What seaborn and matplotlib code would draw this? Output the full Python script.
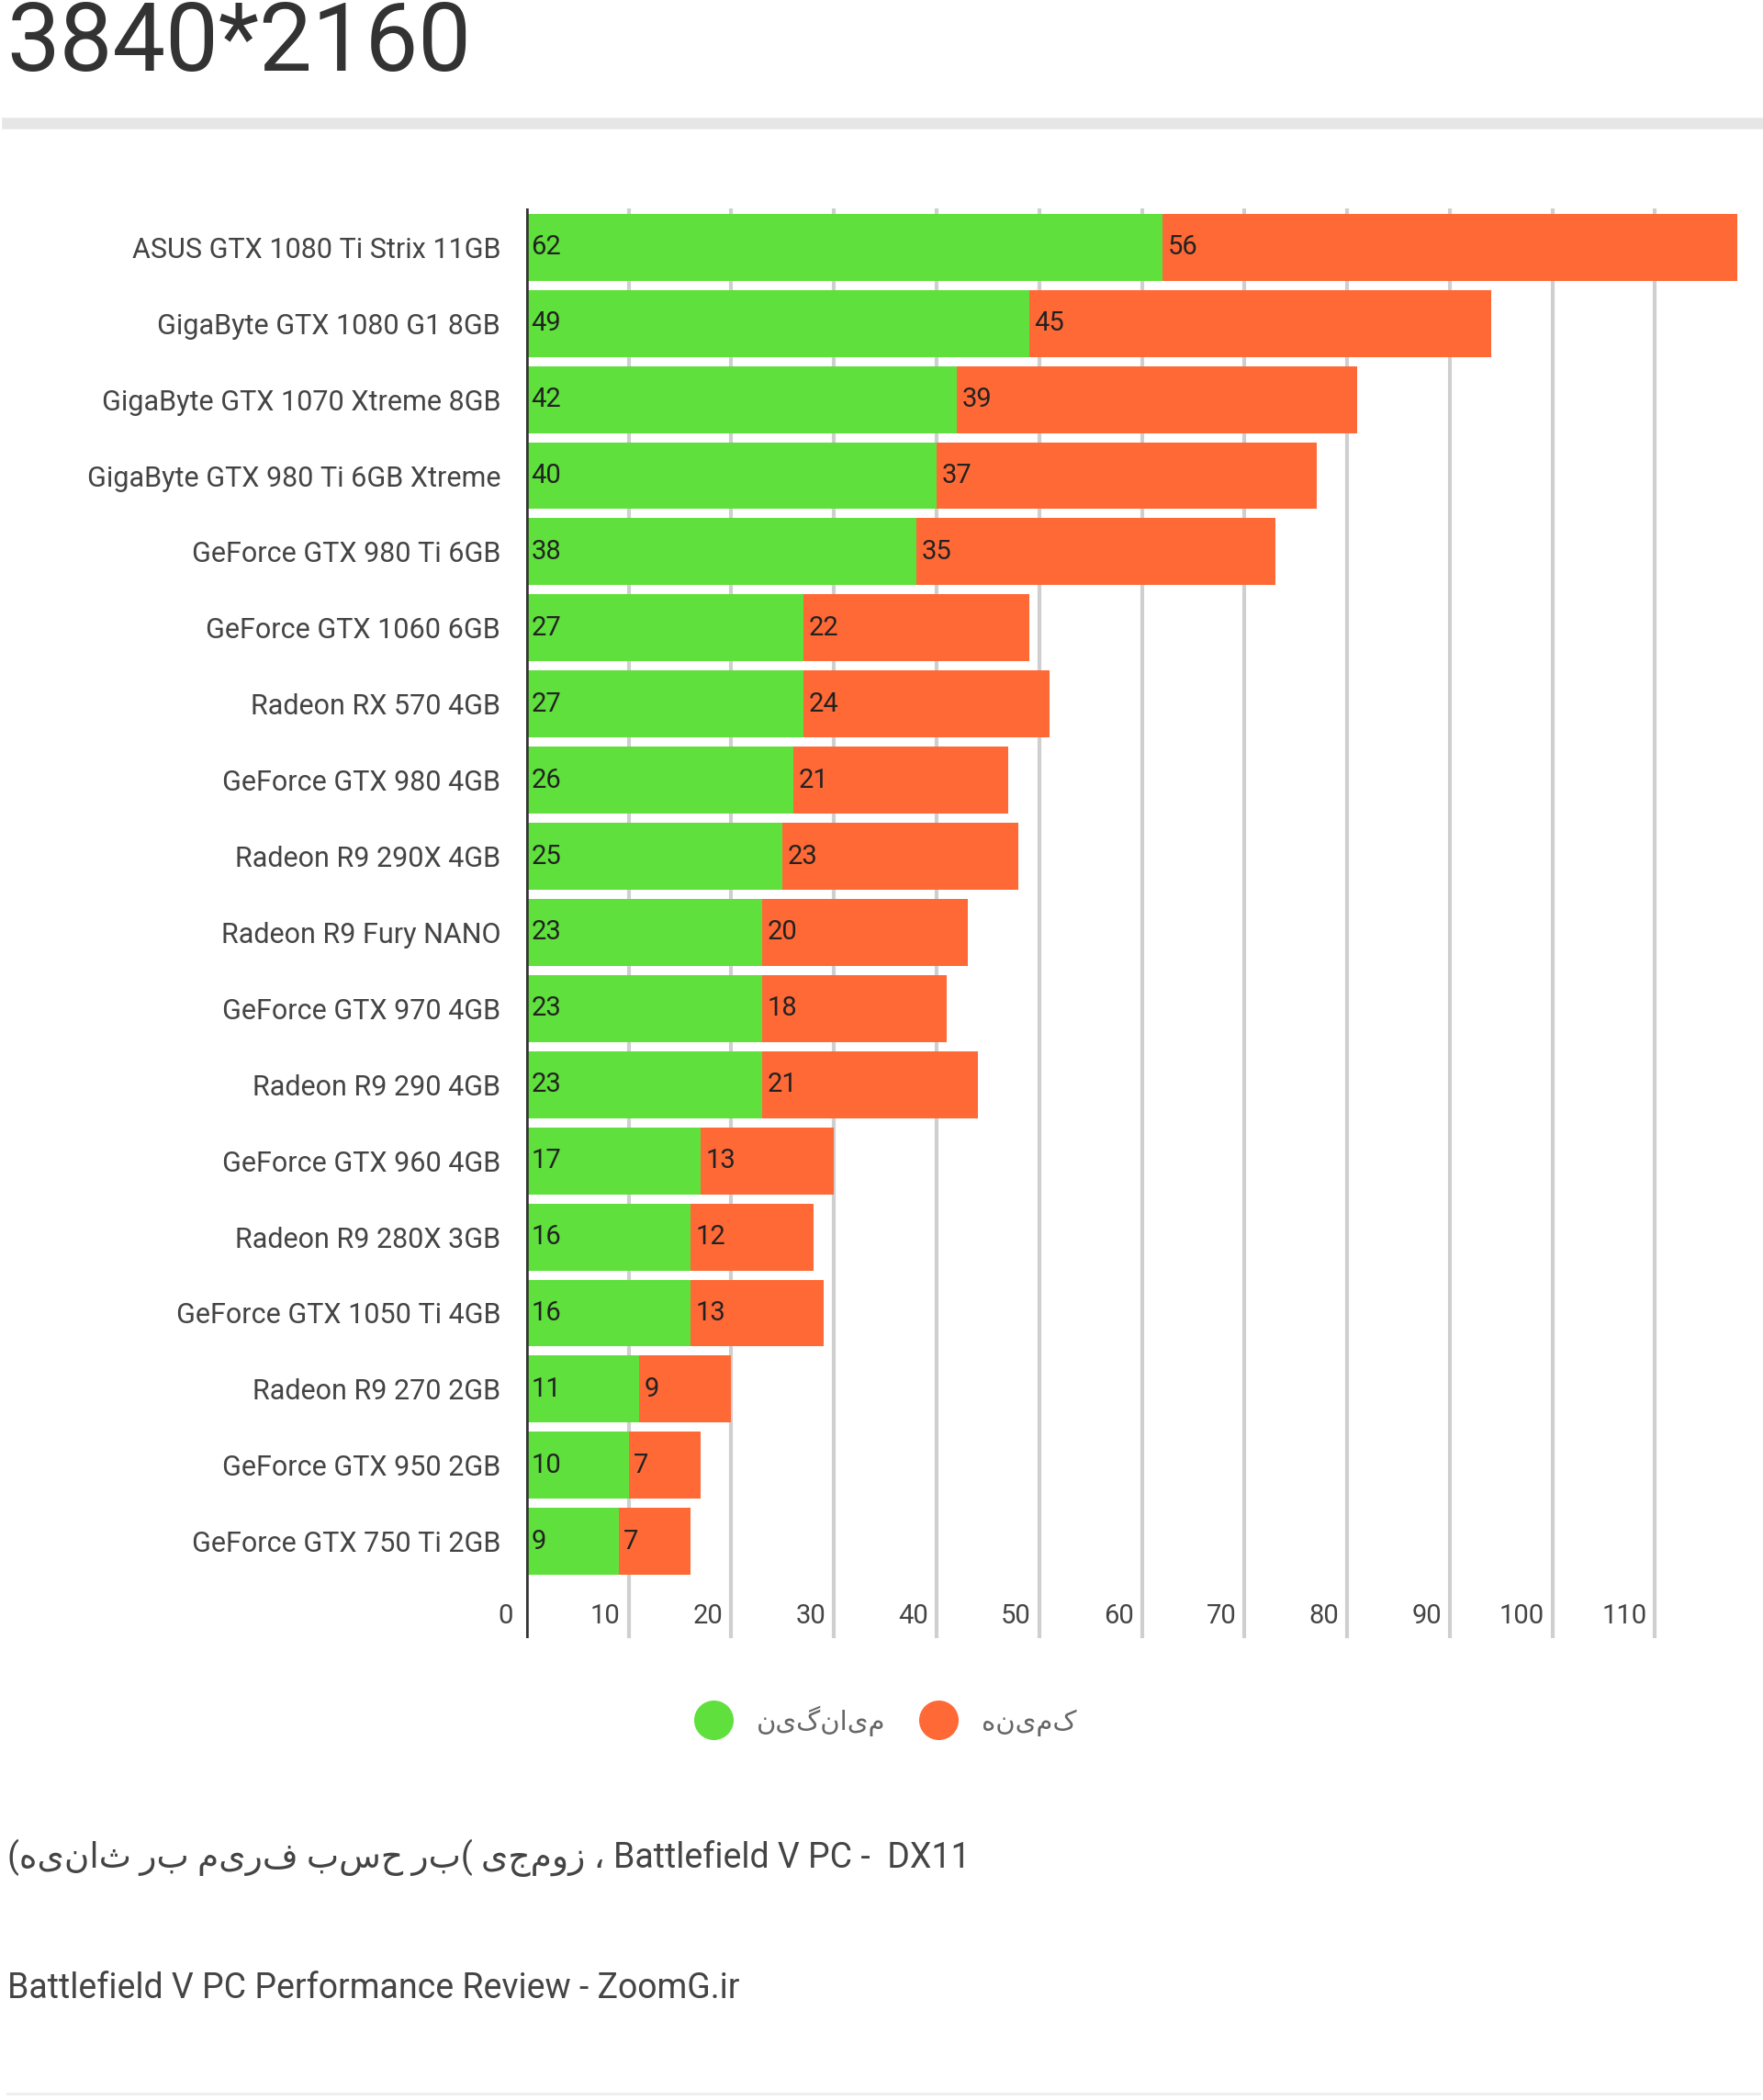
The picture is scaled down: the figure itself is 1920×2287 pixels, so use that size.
import numpy as np
import pandas as pd
import seaborn as sb
from matplotlib import pyplot as plt
from matplotlib.lines import Line2D

gpus = ['ASUS GTX 1080 Ti Strix 11GB', 'GigaByte GTX 1080 G1 8GB', 'GigaByte GTX 1070 Xtreme 8GB',
        'GigaByte GTX 980 Ti 6GB Xtreme', 'GeForce GTX 980 Ti 6GB', 'GeForce GTX 1060 6GB',
        'Radeon RX 570 4GB', 'GeForce GTX 980 4GB', 'Radeon R9 290X 4GB', 'Radeon R9 Fury NANO',
        'GeForce GTX 970 4GB', 'Radeon R9 290 4GB', 'GeForce GTX 960 4GB', 'Radeon R9 280X 3GB',
        'GeForce GTX 1050 Ti 4GB', 'Radeon R9 270 2GB', 'GeForce GTX 950 2GB', 'GeForce GTX 750 Ti 2GB']
avg_fps = [62, 49, 42, 40, 38, 27, 27, 26, 25, 23, 23, 23, 17, 16, 16, 11, 10, 9]
min_fps = [56, 45, 39, 37, 35, 22, 24, 21, 23, 20, 18, 21, 13, 12, 13, 9, 7, 7]
x_ticks = [0, 10, 20, 30, 40, 50, 60, 70, 80, 90, 100, 110]

# matplotlib has no RTL shaping, so Persian strings are reversed for visual order
def rtl(s):
    return s[::-1]

label_avg = 'میانگین'
label_min = 'کمینه'
caption_fa = 'زومجی (بر حسب فریم بر ثانیه)'

GREEN = '#5fe03c'
ORANGE = '#ff6936'
plt.rcParams['font.family'] = ['Roboto', 'DejaVu Sans']

df = pd.DataFrame({'gpu': gpus, 'avg': avg_fps, 'min': min_fps})
df['total'] = df['avg'] + df['min']

fig = plt.figure(figsize=(19.2, 22.87), dpi=100)
ax = fig.add_axes([0.2984, 1 - 1784 / 2287, 0.99 - 0.2984, (1784 - 227) / 2287])

sb.barplot(data=df, x='total', y='gpu', color=ORANGE, width=0.88, saturation=1, ax=ax, zorder=3)
sb.barplot(data=df, x='avg', y='gpu', color=GREEN, width=0.88, saturation=1, ax=ax, zorder=4)

for i, (a, m) in enumerate(zip(avg_fps, min_fps)):
    ax.text(0.5, i, str(a), va='center', ha='left', fontsize=21, color='#222222', zorder=5)
    ax.text(a + 0.5, i, str(m), va='center', ha='left', fontsize=21, color='#222222', zorder=5)

ax.set_xlim(0, 118.8)
ax.set_ylim(len(gpus) - 1 + 1.27, -0.51)
for t in x_ticks[1:]:
    ax.axvline(t, color='#cfcfcf', lw=3, zorder=1)
ax.axvline(0, color='#333333', lw=4, zorder=6)
for t in x_ticks:
    ax.text(t - 0.8 if t else -1.3, len(gpus) - 1 + 0.98, str(t), ha='right', va='center',
            fontsize=21, color='#444444')

ax.set_xticks([])
ax.tick_params(axis='y', length=0, labelsize=22, labelcolor='#444444', pad=20)
ax.set_xlabel('')
ax.set_ylabel('')
for s in ax.spines.values():
    s.set_visible(False)

fig.text(0.004, 1 - 48 / 2287, '3840*2160', fontsize=74, color='#333333', va='center', ha='left')
fig.add_artist(Line2D([0.004, 0.998], [1 - 134 / 2287] * 2, color='#e6e6e6', lw=9))
fig.add_artist(Line2D([0.004, 0.998], [1 - 2280 / 2287] * 2, color='#eeeeee', lw=2))

handles = [Line2D([], [], marker='o', ls='', ms=30, color=GREEN),
           Line2D([], [], marker='o', ls='', ms=30, color=ORANGE)]
fig.legend(handles, [rtl(label_avg), rtl(label_min)], loc='center', bbox_to_anchor=(0.5, 1 - 1874 / 2287),
           ncol=2, frameon=False, fontsize=21, labelcolor='#666666', handletextpad=0.6, columnspacing=1.0)

fig.text(0.004, 1 - 2023 / 2287, '(' + rtl(caption_fa)[1:] + ' ، ' + 'Battlefield V PC -  DX11',
         fontsize=27, color='#444444', va='center', ha='left')
fig.text(0.004, 1 - 2166 / 2287, 'Battlefield V PC Performance Review - ZoomG.ir',
         fontsize=27, color='#444444', va='center', ha='left')

fig.savefig('out.png', dpi=100, facecolor='white')
